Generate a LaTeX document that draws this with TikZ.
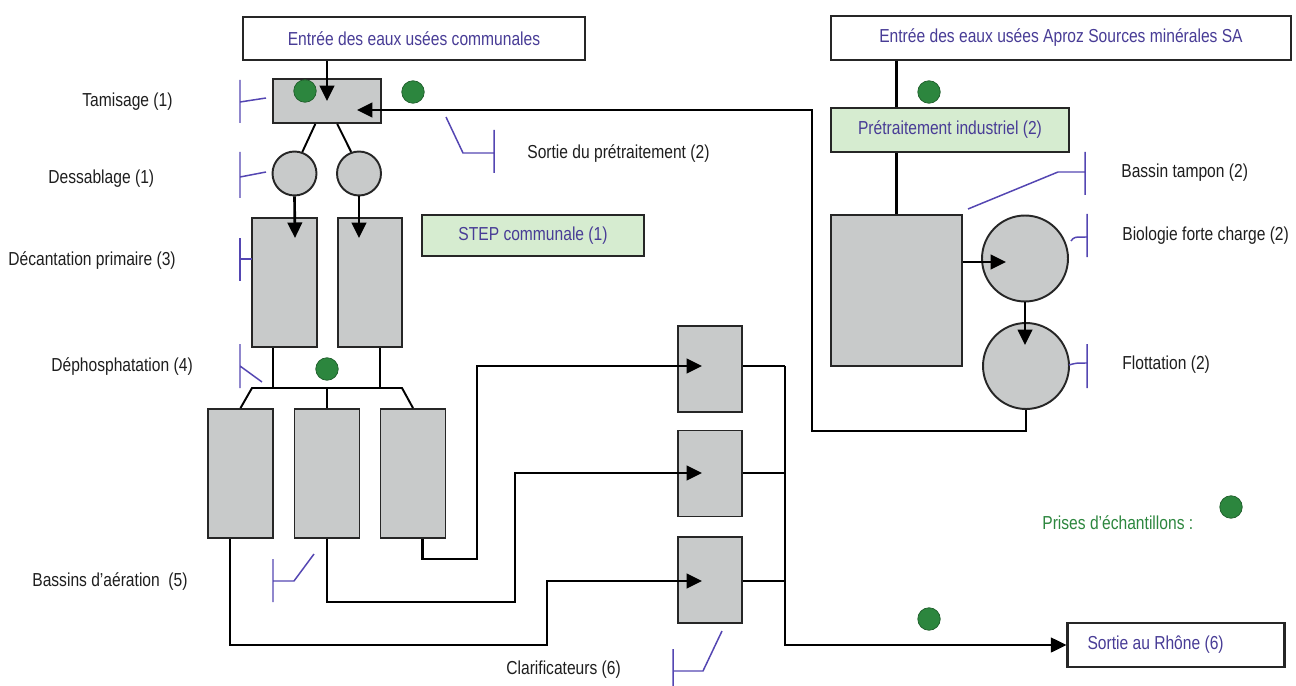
\documentclass[tikz,border=0pt]{standalone}
\usepackage{fontspec}
\setmainfont{Liberation Sans}[FakeStretch=0.83]
\usetikzlibrary{arrows.meta}

\definecolor{tankgray}{RGB}{200,202,202}
\definecolor{boxgreen}{RGB}{214,236,208}
\definecolor{dotgreen}{RGB}{44,134,62}
\definecolor{inktext}{RGB}{72,60,150}
\definecolor{markblue}{RGB}{84,70,178}
\definecolor{labelgray}{RGB}{30,30,30}

\begin{document}
\begin{tikzpicture}[
    x=0.02cm, y=-0.02cm,
    font=\fontsize{10.7}{12}\selectfont,
    box/.style={draw=black!85, line width=1.2pt, fill=white, text=inktext, inner sep=0pt, minimum height=0.87cm},
    greenbox/.style={box, fill=boxgreen},
    tank/.style={draw=black!85, line width=1.1pt, fill=tankgray, inner sep=0pt},
    basin/.style={tank, circle},
    sample/.style={circle, fill=dotgreen, draw=dotgreen!70!black, line width=0.4pt, minimum size=0.45cm, inner sep=0pt},
    stage/.style={anchor=west, text=labelgray, inner sep=0pt},
    levelmark/.style={draw=markblue, line width=0.85pt},
    flow/.style={-{Triangle[length=0.31cm,width=0.29cm]}, line width=1.5pt},
    link/.style={line width=1.1pt}
    ]

    \useasboundingbox (0,0) rectangle (1296,686);

    % inlets
    \node[box, minimum width=6.84cm] (inCom) at (414,38.5) {Entrée des eaux usées communales};
    \node[box, minimum width=9.2cm] (inApr) at (1061,38) {Entrée des eaux usées Aproz Sources minérales SA};

    % STEP communale
    \node[tank, minimum width=2.16cm, minimum height=0.88cm] (tam) at (327,101) {};
    \node[basin, minimum size=0.88cm] (des1) at (294.5,173.5) {};
    \node[basin, minimum size=0.88cm] (des2) at (359,173.5) {};
    \node[tank, minimum width=1.3cm, minimum height=2.58cm] (dec1) at (284.5,282.5) {};
    \node[tank, minimum width=1.28cm, minimum height=2.58cm] (dec2) at (370,282.5) {};
    \node[greenbox, minimum width=4.44cm, minimum height=0.82cm] (step) at (533,235.5) {STEP communale (1)};
    \node[tank, minimum width=1.3cm, minimum height=2.58cm] (aer1) at (240.5,473.5) {};
    \node[tank, minimum width=1.3cm, minimum height=2.58cm] (aer2) at (327,473.5) {};
    \node[tank, minimum width=1.3cm, minimum height=2.58cm] (aer3) at (413,473.5) {};
    \node[tank, minimum width=1.28cm, minimum height=1.72cm] (cla1) at (710,369) {};
    \node[tank, minimum width=1.28cm, minimum height=1.72cm] (cla2) at (710,473.5) {};
    \node[tank, minimum width=1.28cm, minimum height=1.72cm] (cla3) at (710,580) {};
    \node[box, minimum width=4.34cm] (rhone) at (1176,645) {\makebox[3.54cm][l]{Sortie au Rhône (6)}};

    % Aproz
    \node[greenbox, minimum width=4.76cm, minimum height=0.88cm] (pre) at (950,130) {Prétraitement industriel (2)};
    \node[tank, minimum width=2.62cm, minimum height=3.02cm] (tampon) at (896.5,290.5) {};
    \node[basin, minimum size=1.72cm] (bio) at (1025,258.5) {};
    \node[basin, minimum size=1.72cm] (flot) at (1026,366) {};

    % free ends
    \coordinate (tamIn) at (357,110);
    \coordinate (loopCorner) at (812,431);
    \coordinate (dec1In) at (295,238);
    \coordinate (dec2In) at (359,238);
    \coordinate (phosL) at (252,388);
    \coordinate (phosM) at (327,388);
    \coordinate (phosR) at (402,388);
    \coordinate (turnC) at (477,559);
    \coordinate (turnB) at (515,602);
    \coordinate (turnA) at (547,645);
    \coordinate (cla1In) at (702,366);
    \coordinate (cla2In) at (702,473);
    \coordinate (cla3In) at (702,581);
    \coordinate (collect) at (785,645);
    \coordinate (bioIn) at (1006,262);
    \coordinate (flotIn) at (1025,345);

    % connectors
    \draw[flow] (tam.center |- inCom.south) -- (tam.center);
    \draw[link] (tam.-117) -- (des1.70);
    \draw[link] (tam.-66) -- (des2.110);
    \draw[flow] (des1.south) -- (dec1In);
    \draw[flow] (des2.south) -- (dec2In);
    \draw[link] (dec1.-100) -- (dec1.-100 |- phosL);
    \draw[link] (dec2.-81) -- (dec2.-81 |- phosR);
    \draw[link] (aer1.north) -- (phosL) -- (phosR) -- (aer3.north);
    \draw[link] (phosM) -- (aer2.north);
    \draw[flow] (aer3.-82) |- (turnC) |- (cla1In);
    \draw[flow] (aer2.south) |- (turnB) |- (cla2In);
    \draw[flow] (aer1.-99) |- (turnA) |- (cla3In);
    \draw[link] (cla1.east |- cla1In) -- (cla1In -| collect);
    \draw[link] (cla2.east |- cla2In) -- (cla2In -| collect);
    \draw[link] (cla3.east |- cla3In) -- (cla3In -| collect);
    \draw[flow] (cla1In -| collect) -- (collect) -- (rhone.west);
    \draw[link, line width=1.4pt] (inApr.south -| tampon.north) -- (pre.north -| tampon.north);
    \draw[link, line width=1.4pt] (pre.south -| tampon.north) -- (tampon.north);
    \draw[flow] (tampon.east |- bioIn) -- (bioIn);
    \draw[flow] (bio.south) -- (flotIn);
    \draw[flow] (flot.south) |- (loopCorner) |- (tamIn);

    % sampling points
    \node[sample] (dotTam) at (305,91) {};
    \node[sample] (dotSortie) at (413,92) {};
    \node[sample] (dotApr) at (929,92) {};
    \node[sample] (dotPhos) at (327,369) {};
    \node[sample] (dotRhone) at (929,619) {};
    \node[sample] (dotKey) at (1231,507) {};

    % stage labels
    \node[stage] (lTam) at (82,102) {Tamisage (1)};
    \node[stage] (lDes) at (48,179) {Dessablage (1)};
    \node[stage] (lDec) at (8,261) {Décantation primaire (3)};
    \node[stage] (lPhos) at (51,367) {Déphosphatation (4)};
    \node[stage] (lAer) at (32,582) {Bassins d’aération\ \ (5)};
    \node[stage] (lCla) at (506,670) {Clarificateurs (6)};
    \node[stage] (lSortie) at (527,154) {Sortie du prétraitement (2)};
    \node[stage] (lTampon) at (1121,173) {Bassin tampon (2)};
    \node[stage] (lBio) at (1122,236) {Biologie forte charge (2)};
    \node[stage] (lFlot) at (1122,365) {Flottation (2)};
    \node[stage, text=dotgreen] (lPrises) at (1042,523) {Prises d'échantillons :};

    % level marks
    \draw[levelmark] (240,80) -- (240,123) (240,102) -- (266,98);
    \draw[levelmark] (240,152) -- (240,198) (240,177) -- (266,172);
    \draw[levelmark] (240,238) -- (240,281) (240,259) -- (252,259);
    \draw[levelmark] (240,344) -- (240,388) (240,366) -- (262,382);
    \draw[levelmark] (446,117) -- (463,153) -- (494,153) (494,130) -- (494,173);
    \draw[levelmark] (273,559) -- (273,602) (273,581) -- (294,581) -- (314,554);
    \draw[levelmark] (673,649) -- (673,686) (673,671) -- (703,671) -- (722,631);
    \draw[levelmark] (968,209) -- (1058,172) -- (1085,172) (1085,152) -- (1085,195);
    \draw[levelmark] (1087,214) -- (1087,257) (1071,241) .. controls (1074,237) .. (1087,237);
    \draw[levelmark] (1087,344) -- (1087,388) (1069,365) .. controls (1076,363) .. (1087,363);

\end{tikzpicture}
\end{document}
